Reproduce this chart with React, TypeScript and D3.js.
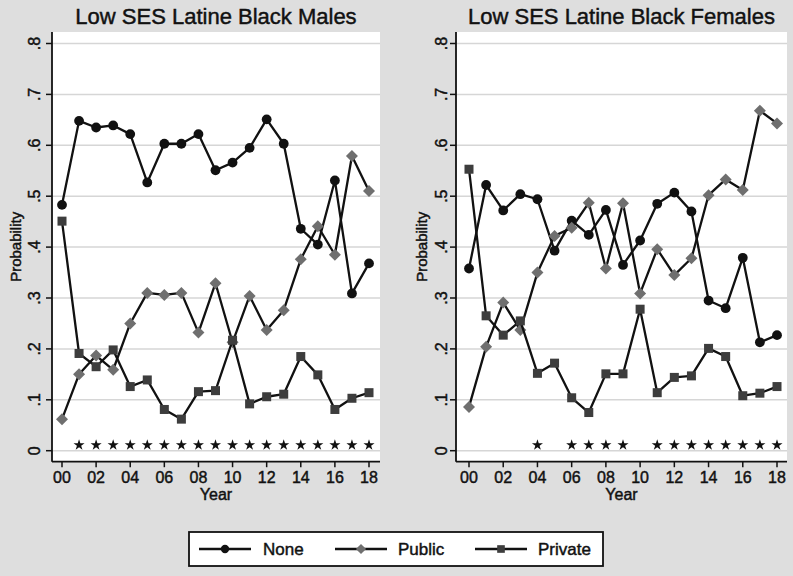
import React from "react";
import * as d3 from "d3";

const years = [0, 1, 2, 3, 4, 5, 6, 7, 8, 9, 10, 11, 12, 13, 14, 15, 16, 17, 18];

const maleNone = [0.483, 0.648, 0.635, 0.639, 0.622, 0.527, 0.603, 0.603, 0.622, 0.551, 0.566, 0.595, 0.651, 0.603, 0.436, 0.405, 0.531, 0.309, 0.368];
const malePublic = [0.062, 0.150, 0.187, 0.159, 0.250, 0.310, 0.306, 0.310, 0.232, 0.329, 0.213, 0.304, 0.237, 0.276, 0.376, 0.441, 0.385, 0.579, 0.510];
const malePrivate = [0.451, 0.191, 0.165, 0.198, 0.126, 0.139, 0.081, 0.062, 0.116, 0.118, 0.217, 0.092, 0.106, 0.111, 0.185, 0.149, 0.081, 0.103, 0.114];
const maleStars = [1, 2, 3, 4, 5, 6, 7, 8, 9, 10, 11, 12, 13, 14, 15, 16, 17, 18];

const femaleNone = [0.358, 0.522, 0.472, 0.504, 0.494, 0.393, 0.452, 0.424, 0.473, 0.365, 0.413, 0.485, 0.507, 0.470, 0.295, 0.280, 0.379, 0.213, 0.227];
const femalePublic = [0.086, 0.204, 0.291, 0.237, 0.350, 0.422, 0.438, 0.487, 0.358, 0.486, 0.309, 0.396, 0.345, 0.378, 0.502, 0.533, 0.512, 0.668, 0.643];
const femalePrivate = [0.553, 0.265, 0.227, 0.255, 0.152, 0.172, 0.104, 0.075, 0.151, 0.151, 0.278, 0.114, 0.144, 0.147, 0.201, 0.185, 0.108, 0.113, 0.126];
const femaleStars = [4, 6, 7, 8, 9, 11, 12, 13, 14, 15, 16, 17, 18];

const starValue = 0.011;

const yTicks = [0, 0.1, 0.2, 0.3, 0.4, 0.5, 0.6, 0.7, 0.8];
const yTickLabels = ["0", ".1", ".2", ".3", ".4", ".5", ".6", ".7", ".8"];
const xTicks = [0, 2, 4, 6, 8, 10, 12, 14, 16, 18];
const xTickLabels = ["00", "02", "04", "06", "08", "10", "12", "14", "16", "18"];

const seriesNames = ["None", "Public", "Private"];

const FONT = "'Liberation Sans', Arial, Helvetica, sans-serif";
const BG = "#dedede";
const GRID = "#d6d6d6";
const INK = "#111111";
const PUBLIC_FILL = "#6f6f6f";
const PRIVATE_FILL = "#3d3d3d";

const TOP = 32;
const AXIS_Y = 461.7;

const textStyle = { stroke: INK, strokeWidth: 0.45 } as const;

type PanelProps = {
  title: string;
  none: number[];
  pub: number[];
  priv: number[];
  stars: number[];
  axisX: number;
  plotRight: number;
  x0: number;
  x18: number;
  tickLabelX: number;
  yTitleX: number;
};

function Marker({ kind, x, y, s = 1 }: { kind: string; x: number; y: number; s?: number }) {
  if (kind === "None") return <circle cx={x} cy={y} r={4.9 * s} fill={INK} />;
  if (kind === "Public") {
    const h = 6 * s;
    return <polygon points={`${x},${y - h} ${x + h},${y} ${x},${y + h} ${x - h},${y}`} fill={PUBLIC_FILL} />;
  }
  const a = 4.5 * s;
  return <rect x={x - a} y={y - a} width={2 * a} height={2 * a} fill={PRIVATE_FILL} />;
}

function Panel(p: PanelProps) {
  const x = d3.scaleLinear().domain([0, 18]).range([p.x0, p.x18]);
  const y = d3.scaleLinear().domain([0, 0.8]).range([450.7, 43.5]);
  const line = d3
    .line<number>()
    .x((_, i) => x(years[i]))
    .y((d) => y(d));
  const starPath = d3.symbol().type(d3.symbolStar).size(38)() as string;
  const series: [string, number[]][] = [
    ["None", p.none],
    ["Public", p.pub],
    ["Private", p.priv],
  ];
  const cy = (TOP + AXIS_Y) / 2;
  return (
    <g>
      <rect x={p.axisX} y={TOP} width={p.plotRight - p.axisX} height={AXIS_Y - TOP} fill="#ffffff" />
      {yTicks.map((t) => (
        <line key={t} x1={p.axisX} x2={p.plotRight} y1={y(t)} y2={y(t)} stroke={GRID} strokeWidth={1.5} />
      ))}
      <text x={(p.axisX + p.plotRight) / 2} y={24} textAnchor="middle" fontFamily={FONT} fontSize={22} fill={INK} style={textStyle}>
        {p.title}
      </text>
      {/* y axis */}
      <line x1={p.axisX} x2={p.axisX} y1={TOP} y2={AXIS_Y} stroke={INK} strokeWidth={1.8} />
      {yTicks.map((t, i) => (
        <g key={"yt" + t}>
          <line x1={p.axisX - 6} x2={p.axisX} y1={y(t)} y2={y(t)} stroke={INK} strokeWidth={1.5} />
          <text
            transform={`translate(${p.tickLabelX},${y(t)}) rotate(-90)`}
            textAnchor="middle"
            dominantBaseline="central"
            fontFamily={FONT}
            fontSize={16}
            fill={INK}
            style={textStyle}
          >
            {yTickLabels[i]}
          </text>
        </g>
      ))}
      <text
        transform={`translate(${p.yTitleX},${cy}) rotate(-90)`}
        textAnchor="middle"
        dominantBaseline="central"
        fontFamily={FONT}
        fontSize={15}
        fill={INK}
        style={textStyle}
      >
        Probability
      </text>
      {/* x axis */}
      <line x1={p.axisX} x2={p.plotRight} y1={AXIS_Y} y2={AXIS_Y} stroke={INK} strokeWidth={1.8} />
      {xTicks.map((t, i) => (
        <g key={"xt" + t}>
          <line x1={x(t)} x2={x(t)} y1={AXIS_Y} y2={AXIS_Y + 5.5} stroke={INK} strokeWidth={1.5} />
          <text x={x(t)} y={482.5} textAnchor="middle" fontFamily={FONT} fontSize={16} fill={INK} style={textStyle}>
            {xTickLabels[i]}
          </text>
        </g>
      ))}
      <text x={(p.axisX + p.plotRight) / 2} y={500} textAnchor="middle" fontFamily={FONT} fontSize={16} fill={INK} style={textStyle}>
        Year
      </text>
      {/* series */}
      {series.map(([name, vals]) => (
        <g key={name}>
          <path d={line(vals) as string} fill="none" stroke={INK} strokeWidth={2.3} strokeLinejoin="round" />
          {vals.map((v, i) => (
            <Marker key={i} kind={name} x={x(years[i])} y={y(v)} />
          ))}
        </g>
      ))}
      {p.stars.map((yr) => (
        <path key={"s" + yr} d={starPath} transform={`translate(${x(yr)},${y(starValue)})`} fill={INK} />
      ))}
    </g>
  );
}

function Legend() {
  const items = [
    { name: seriesNames[0], lx: 199, tx: 263 },
    { name: seriesNames[1], lx: 335, tx: 398 },
    { name: seriesNames[2], lx: 475, tx: 538 },
  ];
  const cy = 549;
  return (
    <g>
      <rect x={189} y={532} width={414} height={34} fill="#ffffff" stroke={INK} strokeWidth={1.8} />
      {items.map((it) => (
        <g key={it.name}>
          <line x1={it.lx} x2={it.lx + 52} y1={cy} y2={cy} stroke={INK} strokeWidth={2.3} />
          <Marker kind={it.name} x={it.lx + 26} y={cy} s={0.85} />
          <text x={it.tx} y={cy + 6} fontFamily={FONT} fontSize={17} fill={INK} style={textStyle}>
            {it.name}
          </text>
        </g>
      ))}
    </g>
  );
}

export default function App() {
  return (
    <svg
      width={793}
      height={576}
      viewBox="0 0 793 576"
      style={{ position: "absolute", left: 0, top: 0, display: "block" }}
    >
      <rect x={0} y={0} width={793} height={576} fill={BG} />
      <Panel
        title="Low SES Latine Black Males"
        none={maleNone}
        pub={malePublic}
        priv={malePrivate}
        stars={maleStars}
        axisX={52}
        plotRight={380}
        x0={62}
        x18={369}
        tickLabelX={34}
        yTitleX={15}
      />
      <Panel
        title="Low SES Latine Black Females"
        none={femaleNone}
        pub={femalePublic}
        priv={femalePrivate}
        stars={femaleStars}
        axisX={456}
        plotRight={787}
        x0={469}
        x18={777}
        tickLabelX={441}
        yTitleX={421}
      />
      <Legend />
    </svg>
  );
}
